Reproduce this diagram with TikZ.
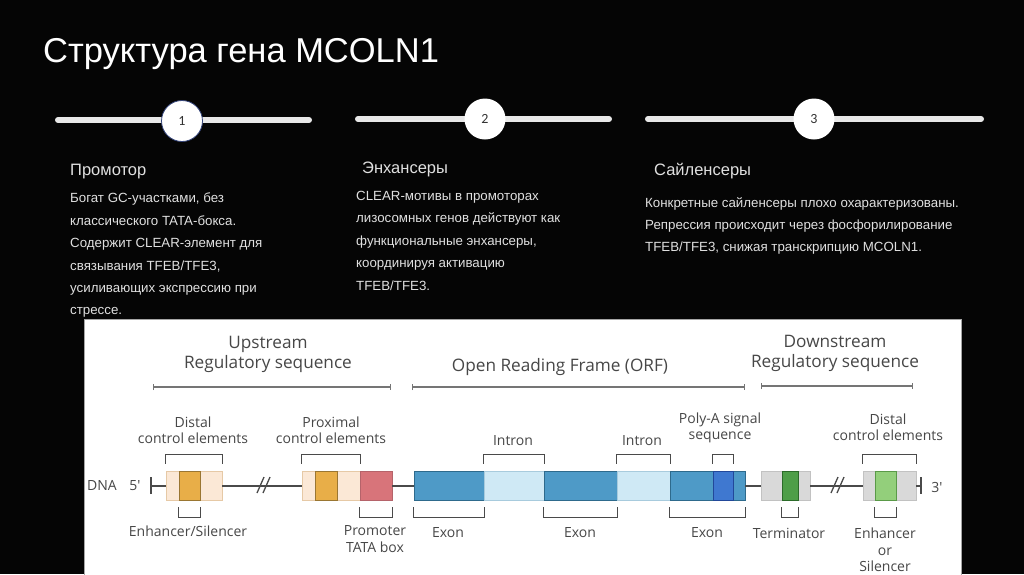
\documentclass[tikz,border=0pt]{standalone}
\usepackage{fontspec}
\setmainfont{Liberation Sans}
\newfontfamily\diafont{Open Sans}
\newfontfamily\numfont{Carlito}
\usepackage{xcolor}
\usepackage{tikz}
\usetikzlibrary{arrows.meta,positioning}
\definecolor{Bg}{HTML}{050505}
\definecolor{Txt}{HTML}{E0E0E0}
\definecolor{Rail}{HTML}{E8E8E8}
\definecolor{Navy}{HTML}{34447A}
\definecolor{Lbl}{HTML}{474747}
\definecolor{Ink}{HTML}{4A4A4A}
\definecolor{Peach}{HTML}{FBE8D6}
\definecolor{PeachLine}{HTML}{E6C9A6}
\definecolor{Amber}{HTML}{E8AE48}
\definecolor{AmberLine}{HTML}{9A7632}
\definecolor{Rose}{HTML}{D8747A}
\definecolor{RoseLine}{HTML}{B5636A}
\definecolor{Exon}{HTML}{4E9AC7}
\definecolor{ExonLine}{HTML}{2E6A8C}
\definecolor{Intron}{HTML}{CFE9F5}
\definecolor{IntronLine}{HTML}{A8CBDD}
\definecolor{PolyA}{HTML}{3F78D0}
\definecolor{PolyALine}{HTML}{22489A}
\definecolor{Grey}{HTML}{D9D9D9}
\definecolor{GreyLine}{HTML}{C2C2C2}
\definecolor{Leaf}{HTML}{4E9E48}
\definecolor{LeafLine}{HTML}{2B6B29}
\definecolor{PaleLeaf}{HTML}{93CF7B}
\definecolor{PaleLeafLine}{HTML}{5A9A48}
\begin{document}
\begin{tikzpicture}[x=1pt,y=-1pt,
rail/.style={draw=Rail,line width=6pt,line cap=round},
dot/.style={circle,fill=white,minimum size=41pt,inner sep=0pt,font=\numfont\fontsize{14}{14}\selectfont,text=black!80},
hd/.style={text=Txt,font=\fontsize{16.5}{18}\selectfont,inner sep=0pt,anchor=base west},
body/.style={text=Txt,font=\fontsize{13.3}{22.4}\selectfont,align=left,inner sep=0pt,anchor=north west},
bx/.style={rectangle,inner sep=0pt,minimum height=29pt,line width=0.9pt},
lb/.style={text=Lbl,font=\diafont\fontsize{14}{16.5}\selectfont,align=center,inner sep=0pt},
big/.style={text=Lbl,font=\diafont\fontsize{17.2}{20}\selectfont,align=center,inner sep=0pt},
rng/.style={draw=Lbl!75,line width=1.1pt,{Bar[width=6pt]}-{Bar[width=6pt]}},
br/.style={draw=Ink,line width=1.6pt},
dna/.style={draw=Ink,line width=2pt}]
\useasboundingbox (0,0) rectangle (1024,574);
\fill[Bg] (0,0) rectangle (1024,574);
\node[text=white,font=\fontsize{34.5}{36}\selectfont,inner sep=0pt,anchor=base west] (title) at (43,62) {Структура гена MCOLN1};
\draw[rail] (58,120) -- (309,120); \draw[rail] (358,119) -- (609,119); \draw[rail] (648,119) -- (981,119);
\node[dot,draw=Navy,line width=0.8pt] (c1) at (182,121) {1};
\node[dot] (c2) at (485,119) {2};
\node[dot] (c3) at (814,119) {3};
\node[hd] (h1) at (70,175) {Промотор};
\node[hd] (h2) at (362,173) {Энхансеры};
\node[hd] (h3) at (654,175) {Сайленсеры};
\node[body] (t1) at (70,193) {Богат GC-участками, без\\классического TATA-бокса.\\Содержит CLEAR-элемент для\\связывания TFEB/TFE3,\\усиливающих экспрессию при\\стрессе.};
\node[body] (t2) at (356,191) {CLEAR-мотивы в промоторах\\лизосомных генов действуют как\\функциональные энхансеры,\\координируя активацию\\TFEB/TFE3.};
\node[body] (t3) at (645,197) {Конкретные сайленсеры плохо охарактеризованы.\\Репрессия происходит через фосфорилирование\\TFEB/TFE3, снижая транскрипцию MCOLN1.};
\filldraw[fill=white,draw=black!35,line width=0.8pt] (84,319) rectangle (961,575);
\node[big] (up) at (268,354) {Upstream\\Regulatory sequence};
\node[big] (orf) at (560,367) {Open Reading Frame (ORF)};
\node[big] (down) at (835,353) {Downstream\\Regulatory sequence};
\draw[rng] (153,387) -- (391,387); \draw[rng] (412,387) -- (745,387); \draw[rng] (761,386) -- (913,386);
\node[bx,fill=Peach,draw=PeachLine,minimum width=56pt] (ud) at (194,485.5) {};
\node[bx,fill=Amber,draw=AmberLine,minimum width=21pt] (ue) at (189.5,485.5) {};
\node[bx,fill=Peach,draw=PeachLine,minimum width=58pt] (px) at (331,485.5) {};
\node[bx,fill=Amber,draw=AmberLine,minimum width=22pt] (pe) at (326,485.5) {};
\node[bx,fill=Rose,draw=RoseLine,minimum width=32pt] (tata) at (376,485.5) {};
\node[bx,fill=Exon,draw=ExonLine,minimum width=70pt] (ex1) at (449,485.5) {};
\node[bx,fill=Intron,draw=IntronLine,minimum width=60pt] (in1) at (514,485.5) {};
\node[bx,fill=Exon,draw=ExonLine,minimum width=73pt] (ex2) at (580.5,485.5) {};
\node[bx,fill=Intron,draw=IntronLine,minimum width=53pt] (in2) at (643.5,485.5) {};
\node[bx,fill=Exon,draw=ExonLine,minimum width=75pt] (ex3) at (707.5,485.5) {};
\node[bx,fill=PolyA,draw=PolyALine,minimum width=20pt] (pa) at (723,485.5) {};
\node[bx,fill=Grey,draw=GreyLine,minimum width=49pt] (term) at (785.5,485.5) {};
\node[bx,fill=Leaf,draw=LeafLine,minimum width=16pt] (tg) at (790,485.5) {};
\node[bx,fill=Grey,draw=GreyLine,minimum width=53pt] (dd) at (889.5,485.5) {};
\node[bx,fill=PaleLeaf,draw=PaleLeafLine,minimum width=21pt] (dg) at (885.5,485.5) {};
\coordinate (e5) at (150,485.5); \coordinate (e3) at (922,485.5);
\draw[dna,{Bar[width=17pt]}-] (e5) -- (ud.west);
\draw[dna] (ud.east) -- (px.west); \draw[dna] (tata.east) -- (ex1.west);
\draw[dna] (ex3.east) -- (term.west); \draw[dna] (term.east) -- (dd.west);
\draw[dna,-{Bar[width=17pt]}] (dd.east) -- (e3);
\draw[dna,line width=1.3pt] (257,493) -- (264,477) (263,493) -- (270,477);
\draw[dna,line width=1.3pt] (831,493) -- (838,477) (837,493) -- (844,477);
\node[lb,font=\diafont\fontsize{14}{16}\selectfont] (dnaL) at (102,485.5) {DNA};
\node[lb,font=\diafont\fontsize{14}{16}\selectfont] (p5) at (135,485.5) {5'};
\node[lb,font=\diafont\fontsize{14}{16}\selectfont] (p3) at (937,487) {3'};
\draw[br] ([yshift=7pt]ud.north west) -- ++(0,-9) -| ([yshift=7pt]ud.north east);
\draw[br] ([yshift=7pt]px.north west) -- ++(0,-9) -| ([yshift=7pt]px.north east);
\draw[br] ([yshift=7pt]in1.north west) -- ++(0,-9) -| ([yshift=7pt]in1.north east);
\draw[br] ([yshift=7pt]in2.north west) -- ++(0,-9) -| ([yshift=7pt]in2.north east);
\draw[br] ([yshift=7pt]pa.north west) -- ++(0,-9) -| ([yshift=7pt]pa.north east);
\draw[br] ([yshift=7pt]dd.north west) -- ++(0,-9) -| ([yshift=7pt]dd.north east);
\draw[br] ([yshift=-7pt]ue.south west) -- ++(0,10) -| ([yshift=-7pt]ue.south east);
\draw[br] ([yshift=-7pt]tata.south west) -- ++(0,10) -| ([yshift=-7pt]tata.south east);
\draw[br] ([yshift=-7pt]ex1.south west) -- ++(0,10) -| ([yshift=-7pt]ex1.south east);
\draw[br] ([yshift=-7pt]ex2.south west) -- ++(0,10) -| ([yshift=-7pt]ex2.south east);
\draw[br] ([yshift=-7pt]ex3.south west) -- ++(0,10) -| ([yshift=-7pt]ex3.south east);
\draw[br] ([yshift=-7pt]tg.south west) -- ++(0,10) -| ([yshift=-7pt]tg.south east);
\draw[br] ([yshift=-7pt]dg.south west) -- ++(0,10) -| ([yshift=-7pt]dg.south east);
\node[lb] (lDist) at (193,430) {Distal\\control elements};
\node[lb] (lProx) at (331,430) {Proximal\\control elements};
\node[lb] (lIn1) at (513,441) {Intron};
\node[lb] (lIn2) at (642,441) {Intron};
\node[lb] (lPolyA) at (720,428) {Poly-A signal\\sequence};
\node[lb] (lDist2) at (888,427) {Distal\\control elements};
\node[lb] (lEnh) at (188,531) {Enhancer/Silencer};
\node[lb] (lTata) at (375,539) {Promoter\\TATA box};
\node[lb] (lEx1) at (448,533) {Exon};
\node[lb] (lEx2) at (580,533) {Exon};
\node[lb] (lEx3) at (707,533) {Exon};
\node[lb] (lTerm) at (789,533) {Terminator};
\node[lb] (lEnh2) at (885,550) {Enhancer\\or\\Silencer};
\end{tikzpicture}
\end{document}
